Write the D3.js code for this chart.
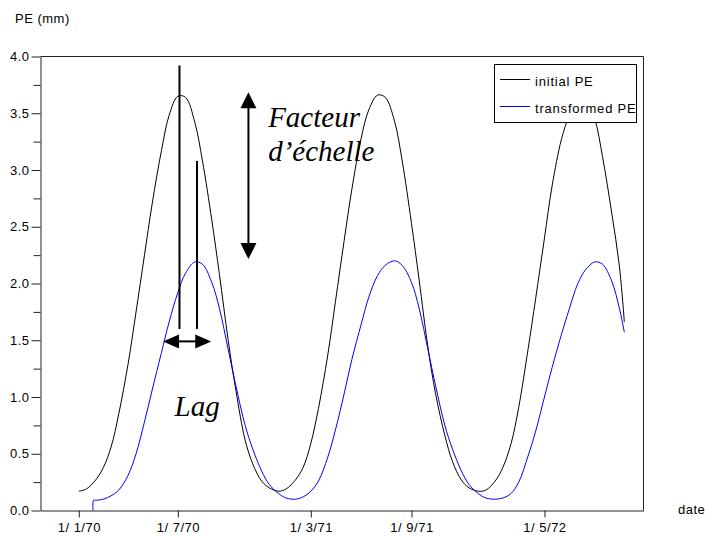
<!DOCTYPE html>
<html><head><meta charset="utf-8">
<script src="https://cdn.jsdelivr.net/npm/d3@7"></script>
<style>
html,body{margin:0;padding:0;background:#fff;}
svg{display:block;}
.sans{font-family:"Liberation Sans", Arial, Helvetica, sans-serif;font-size:13px;letter-spacing:0.5px;fill:#000;}
.legend-text{letter-spacing:0.8px;}
.serif{font-family:"Liberation Serif","Times New Roman",serif;font-style:italic;font-size:29px;fill:#000;}
</style></head><body>
<svg id="chart" width="705" height="536"></svg>
<script>
// ---------------- data ----------------
const initialDates = [
 "1970-01-01","1970-01-15","1970-02-01","1970-02-15","1970-03-01","1970-03-15","1970-04-01","1970-04-15",
 "1970-05-01","1970-05-15","1970-06-01","1970-06-15","1970-07-01","1970-07-15","1970-08-01","1970-08-15",
 "1970-09-01","1970-09-15","1970-10-01","1970-10-15","1970-11-01","1970-11-15","1970-12-01","1970-12-15",
 "1971-01-01","1971-01-15","1971-02-01","1971-02-15","1971-03-01","1971-03-15","1971-04-01","1971-04-15",
 "1971-05-01","1971-05-15","1971-06-01","1971-06-15","1971-07-01","1971-07-15","1971-08-01","1971-08-15",
 "1971-09-01","1971-09-15","1971-10-01","1971-10-15","1971-11-01","1971-11-15","1971-12-01","1971-12-15",
 "1972-01-01","1972-01-15","1972-02-01","1972-02-15","1972-03-01","1972-03-15","1972-04-01","1972-04-15",
 "1972-05-01","1972-05-15","1972-06-01","1972-06-15","1972-07-01","1972-07-15","1972-08-01","1972-08-15",
 "1972-09-01","1972-09-15","1972-09-24"];
const initialPE = [
 0.17,0.19,0.27,0.38,0.56,0.85,1.29,1.73,2.25,2.70,3.17,3.48,3.65,3.64,3.42,3.08,2.56,2.08,1.50,1.06,0.62,0.41,0.26,0.20,
 0.17,0.19,0.27,0.38,0.59,0.90,1.37,1.84,2.38,2.83,3.28,3.53,3.66,3.64,3.43,3.08,2.53,2.03,1.44,1.03,0.66,0.43,0.27,0.20,
 0.17,0.18,0.26,0.38,0.59,0.91,1.42,1.87,2.40,2.86,3.27,3.48,3.66,3.64,3.45,3.12,2.62,2.15,1.66];

const transformedDates = [
 "1970-01-27","1970-01-28",
 "1970-02-01","1970-02-15","1970-03-01","1970-03-15","1970-04-01","1970-04-15",
 "1970-05-01","1970-05-15","1970-06-01","1970-06-15","1970-07-01","1970-07-15","1970-08-01","1970-08-15",
 "1970-09-01","1970-09-15","1970-10-01","1970-10-15","1970-11-01","1970-11-15","1970-12-01","1970-12-15",
 "1971-01-01","1971-01-15","1971-02-01","1971-02-15","1971-03-01","1971-03-15","1971-04-01","1971-04-15",
 "1971-05-01","1971-05-15","1971-06-01","1971-06-15","1971-07-01","1971-07-15","1971-08-01","1971-08-15",
 "1971-09-01","1971-09-15","1971-10-01","1971-10-15","1971-11-01","1971-11-15","1971-12-01","1971-12-15",
 "1972-01-01","1972-01-15","1972-02-01","1972-02-15","1972-03-01","1972-03-15","1972-04-01","1972-04-15",
 "1972-05-01","1972-05-15","1972-06-01","1972-06-15","1972-07-01","1972-07-15","1972-08-01","1972-08-15",
 "1972-09-01","1972-09-15","1972-09-24"];
const transformedPE = [
 0.00,0.09,
 0.09,0.10,0.13,0.18,0.31,0.49,0.78,1.06,1.39,1.66,1.92,2.09,2.19,2.17,2.01,1.78,1.42,1.10,0.75,0.54,0.35,0.23,
 0.15,0.11,0.10,0.12,0.17,0.26,0.47,0.71,1.03,1.33,1.64,1.88,2.07,2.16,2.20,2.16,2.01,1.78,1.42,1.10,0.75,0.54,0.35,0.23,
 0.15,0.11,0.10,0.11,0.15,0.25,0.48,0.70,1.00,1.26,1.55,1.77,2.00,2.12,2.19,2.17,2.02,1.78,1.57];

const seriesNames = ["initial PE", "transformed PE"];
const seriesColors = ["#000000", "#0000ff"];

const xDomainDates = ["1969-10-23", "1972-10-29"];
const xTickDates = ["1970-01-01", "1970-07-01", "1971-03-01", "1971-09-01", "1972-05-01"];
const xTickLabels = ["1/ 1/70", "1/ 7/70", "1/ 3/71", "1/ 9/71", "1/ 5/72"];
const yDomain = [0, 4];
const yTicks = [0, 0.5, 1, 1.5, 2, 2.5, 3, 3.5, 4];
const yTickLabels = ["0.0", "0.5", "1.0", "1.5", "2.0", "2.5", "3.0", "3.5", "4.0"];
const yMinorTicks = [0.25, 0.75, 1.25, 1.75, 2.25, 2.75, 3.25, 3.75];
const yAxisTitle = "PE (mm)";
const xAxisTitle = "date";

// annotations (in data coordinates)
const lagLines = [
  {date: "1970-07-04", from: 3.92, to: 1.60},
  {date: "1970-08-05", from: 3.08, to: 1.60}
];
const lagArrow = {from: "1970-06-04", to: "1970-08-31", value: 1.49};
const scaleArrow = {date: "1970-11-07", from: 3.685, to: 2.215};
const lagLabel = {text: "Lag", date: "1970-06-25", value: 0.83};
const scaleLabel = [
  {text: "Facteur", date: "1970-12-13", value: 3.38},
  {text: "d\u2019\u00e9chelle", date: "1970-12-13", value: 3.075}
];

// ---------------- drawing ----------------
const parse = d3.utcParse("%Y-%m-%d");
const svg = d3.select("#chart");

const x = d3.scaleUtc().domain(xDomainDates.map(parse)).range([40.5, 643.5]);
const y = d3.scaleLinear().domain(yDomain).range([510.5, 56.5]);

const frameColor = "#222";

// frame top / right
svg.append("line").attr("x1", 40.5).attr("x2", 643.5).attr("y1", y(4)).attr("y2", y(4))
  .attr("stroke", frameColor);
svg.append("line").attr("x1", 643.5).attr("x2", 643.5).attr("y1", y(4)).attr("y2", y(0))
  .attr("stroke", frameColor);

// curves
const line = d3.line()
  .x(d => x(d.date)).y(d => y(d.v))
  .curve(d3.curveCatmullRom.alpha(0.5));

const initialData = initialDates.map((d, i) => ({date: parse(d), v: initialPE[i]}));
const transformedData = transformedDates.map((d, i) => ({date: parse(d), v: transformedPE[i]}));

svg.append("path").datum(initialData).attr("d", line)
  .attr("fill", "none").attr("stroke", seriesColors[0]).attr("stroke-width", 1);
svg.append("path").datum(transformedData).attr("d", line)
  .attr("fill", "none").attr("stroke", seriesColors[1]).attr("stroke-width", 1);

// y axis
svg.append("g").attr("transform", "translate(40.5,0)")
  .call(d3.axisLeft(y).tickValues(yTicks).tickFormat((d, i) => yTickLabels[i])
    .tickSize(9).tickSizeOuter(0).tickPadding(2));
svg.append("g").attr("transform", "translate(40.5,0)")
  .call(d3.axisLeft(y).tickValues(yMinorTicks).tickFormat("").tickSize(7).tickSizeOuter(0))
  .call(g => g.select(".domain").remove());

// x axis
svg.append("g").attr("transform", "translate(0,510.5)")
  .call(d3.axisBottom(x).tickValues(xTickDates.map(parse)).tickFormat((d, i) => xTickLabels[i])
    .tickSize(7).tickSizeOuter(0).tickPadding(5));

svg.selectAll(".tick line, .domain").attr("stroke", frameColor);
svg.selectAll(".tick text").attr("class", "sans").attr("font-family", null).attr("font-size", null);

// axis titles
svg.append("text").attr("class", "sans").attr("x", 15).attr("y", 23).text(yAxisTitle);
svg.append("text").attr("class", "sans").attr("x", 678).attr("y", 514).text(xAxisTitle);

// annotations
const ann = svg.append("g");
lagLines.forEach(l => {
  ann.append("line").attr("x1", x(parse(l.date))).attr("x2", x(parse(l.date)))
    .attr("y1", y(l.from)).attr("y2", y(l.to)).attr("stroke", "#000").attr("stroke-width", 2);
});
{
  const x1 = x(parse(lagArrow.from)), x2 = x(parse(lagArrow.to)), yy = y(lagArrow.value);
  const hl = 16, hw = 7;
  ann.append("line").attr("x1", x1 + hl - 2).attr("x2", x2 - hl + 2).attr("y1", yy).attr("y2", yy)
    .attr("stroke", "#000").attr("stroke-width", 2);
  ann.append("path").attr("d", `M${x1},${yy}L${x1 + hl},${yy - hw}L${x1 + hl},${yy + hw}Z`).attr("fill", "#000");
  ann.append("path").attr("d", `M${x2},${yy}L${x2 - hl},${yy - hw}L${x2 - hl},${yy + hw}Z`).attr("fill", "#000");
}
{
  const xx = x(parse(scaleArrow.date)), y1 = y(scaleArrow.from), y2 = y(scaleArrow.to);
  const hl = 16, hw = 8;
  ann.append("line").attr("x1", xx).attr("x2", xx).attr("y1", y1 + hl - 2).attr("y2", y2 - hl + 2)
    .attr("stroke", "#000").attr("stroke-width", 2);
  ann.append("path").attr("d", `M${xx},${y1}L${xx - hw},${y1 + hl}L${xx + hw},${y1 + hl}Z`).attr("fill", "#000");
  ann.append("path").attr("d", `M${xx},${y2}L${xx - hw},${y2 - hl}L${xx + hw},${y2 - hl}Z`).attr("fill", "#000");
}
ann.append("text").attr("class", "serif").attr("x", x(parse(lagLabel.date))).attr("y", y(lagLabel.value)).text(lagLabel.text);
scaleLabel.forEach(t => {
  ann.append("text").attr("class", "serif").attr("x", x(parse(t.date))).attr("y", y(t.value)).text(t.text);
});

// legend
const legend = svg.append("g");
legend.append("rect").attr("x", 494.5).attr("y", 64.5).attr("width", 142).attr("height", 58)
  .attr("fill", "#fff").attr("stroke", "#000");
seriesNames.forEach((name, i) => {
  const ly = 79.5 + i * 27;
  legend.append("line").attr("x1", 500).attr("x2", 530).attr("y1", ly).attr("y2", ly)
    .attr("stroke", seriesColors[i]);
  legend.append("text").attr("class", "sans legend-text").attr("x", 535).attr("y", ly + 6.5).text(name);
});
</script>
</body></html>
